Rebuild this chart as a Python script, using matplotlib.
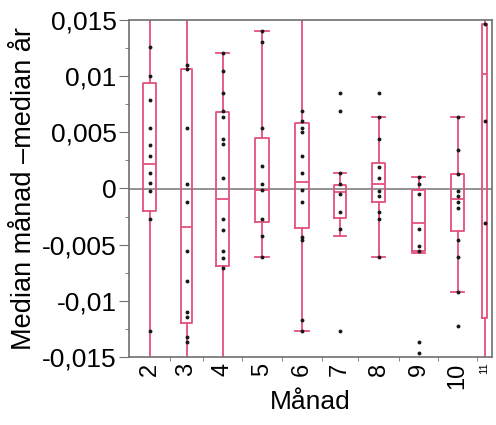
#!/usr/bin/env python3

'''
Box plot of monthly median minus yearly median, per month.
'''

import numpy as np
import matplotlib
matplotlib.use('Agg')
import matplotlib.pyplot as pl

pl.rcParams['font.family']=['Liberation Sans','DejaVu Sans']

months=['2','3','4','5','6','7','8','9','10','11']

# Box statistics per month (None = whisker runs past the axis)
q1 =[-0.0020,-0.0120,-0.0069,-0.0030,-0.0035,-0.0026,-0.0012,-0.0056,-0.0038,-0.0115]
med=[ 0.0022,-0.0034,-0.0009,-0.0001, 0.0006,-0.0003, 0.0004,-0.0031,-0.0009, 0.0102]
q3 =[ 0.0094, 0.0106, 0.0068, 0.0045, 0.0058, 0.0003, 0.0023,-0.0001, 0.0013, 0.0146]
wlo=[None,None,None,-0.0061,-0.0127,-0.0042,-0.0061,-0.0057,-0.0092,None]
whi=[None,None,0.0121,0.0140,None,0.0014,0.0064,0.0010,0.0064,None]

# Individual observations
obs=[
    [0.0126,0.0100,0.0079,0.0054,0.0039,0.0029,0.0014,0.0005,-0.0002,-0.0027,-0.0127],
    [0.0110,0.0106,0.0054,0.0004,-0.0012,-0.0056,-0.0082,-0.0110,-0.0114,-0.0132,-0.0137],
    [0.0121,0.0105,0.0085,0.0069,0.0064,0.0044,0.0040,0.0009,-0.0027,-0.0037,-0.0056,-0.0062,-0.0071],
    [0.0140,0.0130,0.0054,0.0020,0.0004,-0.0001,-0.0027,-0.0042,-0.0061],
    [0.0069,0.0060,0.0054,0.0050,0.0029,0.0014,-0.0001,-0.0012,-0.0043,-0.0046,-0.0117,-0.0127],
    [0.0085,0.0069,0.0014,0.0004,-0.0005,-0.0021,-0.0036,-0.0127],
    [0.0085,0.0064,0.0044,0.0019,0.0009,-0.0002,-0.0007,-0.0021,-0.0027,-0.0061],
    [0.0010,0.0004,-0.0005,-0.0036,-0.0051,-0.0056,-0.0137,-0.0146],
    [0.0064,0.0034,0.0013,-0.0002,-0.0007,-0.0012,-0.0017,-0.0046,-0.0061,-0.0092,-0.0122],
    [0.0146,0.0060,-0.0031],
]

# Column widths along x (wider column = more observations)
colw=np.array([41,33,39,40,40,36,41,39,39,15],float)
edges=np.concatenate([[0],np.cumsum(colw)])
pos=(edges[:-1]+edges[1:])/2
boxw=np.minimum(13.5,0.36*colw)

boxcol='#e2527c'
ylim=(-0.015,0.015)

fig=pl.figure(figsize=(4.96,4.25),dpi=100)
ax=fig.add_axes([129/496,1-357/425,363/496,337/425])

ax.axhline(0,color='#808080',lw=1.2,zorder=1)

stats=[]
for i in range(len(months)):
    stats.append({'q1':q1[i],'med':med[i],'q3':q3[i],
                  'whislo':wlo[i] if wlo[i] is not None else -0.03,
                  'whishi':whi[i] if whi[i] is not None else 0.03,
                  'fliers':[]})
lp=dict(color=boxcol,lw=1.3)
ax.bxp(stats,positions=pos,widths=boxw,showfliers=False,
       boxprops=lp,whiskerprops=lp,capprops=lp,medianprops=lp,
       capwidths=boxw,manage_ticks=False)

for p,o in zip(pos,obs):
    ax.plot(np.full(len(o),p),o,'o',ms=1.8,color='#1a1a1a',zorder=4)

ax.set_xlim(0,edges[-1])
ax.set_ylim(*ylim)

yt=np.arange(-0.015,0.0151,0.005)
ax.set_yticks(yt)
ax.set_yticklabels(['-0,015','-0,01','-0,005','0','0,005','0,01','0,015'],fontsize=19)
ax.set_yticks(np.arange(-0.0125,0.015,0.005),minor=True)
ax.tick_params(axis='y',which='major',length=7,color='#707070',pad=2)
ax.tick_params(axis='y',which='minor',length=3,color='#707070')

ax.set_xticks(pos)
ax.set_xticklabels(months[:-1]+[''],rotation=90,fontsize=17)
ax.set_xticks(edges[1:-1],minor=True)
ax.tick_params(axis='x',which='major',length=0,pad=4)
ax.tick_params(axis='x',which='minor',length=3,color='#707070')
ax.text(pos[-1],-0.0155,months[-1],rotation=90,ha='center',va='top',fontsize=8)

for s in ax.spines.values():
    s.set_color('#707070')
    s.set_linewidth(1.2)

fig.text(24/496,1-188/425,'Median månad \u2013median år',rotation=90,
         ha='center',va='center',fontsize=19.5)
fig.text(310/496,1-402/425,'Månad',ha='center',va='center',fontsize=19)

fig.savefig('out.png',dpi=100)
